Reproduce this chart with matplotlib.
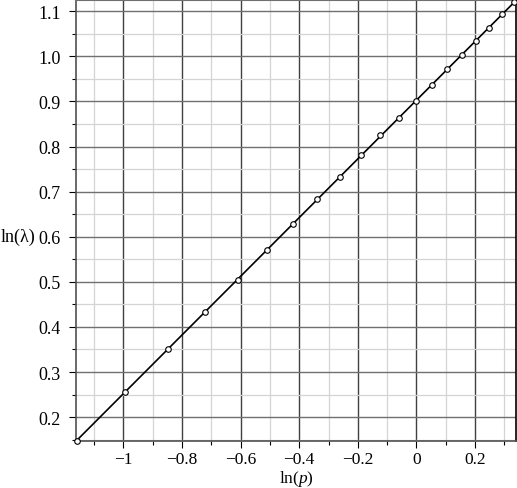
import numpy as np
import matplotlib
matplotlib.use('Agg')
import matplotlib.pyplot as plt
from matplotlib.ticker import MultipleLocator, FuncFormatter

# Data (ln(p), ln(lambda))
ln_p = [-1.160, -0.994, -0.849, -0.723, -0.610, -0.511, -0.420, -0.338, -0.261,
        -0.190, -0.123, -0.059, 0.000, 0.054, 0.106, 0.156, 0.203, 0.248, 0.293, 0.333]
ln_lam = [0.148, 0.256, 0.351, 0.432, 0.505, 0.570, 0.629, 0.684, 0.732,
          0.781, 0.825, 0.864, 0.900, 0.936, 0.971, 1.004, 1.035, 1.064, 1.094, 1.121]

plt.rcParams['font.family'] = ['Liberation Serif', 'DejaVu Serif']
plt.rcParams['mathtext.fontset'] = 'custom'
plt.rcParams['mathtext.rm'] = 'Liberation Serif'
plt.rcParams['mathtext.it'] = 'Liberation Serif:italic'

fig = plt.figure(figsize=(5.17, 4.89), dpi=100)
ax = fig.add_axes([76 / 517, 47 / 489, 440 / 517, 441 / 489])

# Fitted straight line through the points
xs = np.array(ln_p)
ys = np.array(ln_lam)
slope, icpt = np.polyfit(xs, ys, 1)
xlim = (-1.162, 0.340)
xl = np.array(xlim)
ax.plot(xl, slope * xl + icpt, color='black', lw=1.2, zorder=3)

ax.plot(xs, ys, 'o', ms=4, mfc='white', mec='black', mew=0.8, zorder=4, clip_on=False)

ax.set_xlim(xlim)
ax.set_ylim(0.147, 1.125)

ax.xaxis.set_major_locator(MultipleLocator(0.2))
ax.xaxis.set_minor_locator(MultipleLocator(0.1))
ax.yaxis.set_major_locator(MultipleLocator(0.1))
ax.yaxis.set_minor_locator(MultipleLocator(0.05))


def xfmt(v, pos):
    if abs(v) < 1e-9:
        return '0'
    s = '%g' % round(v, 1)
    return s.replace('-', '\u2212')


ax.xaxis.set_major_formatter(FuncFormatter(xfmt))
ax.yaxis.set_major_formatter(FuncFormatter(lambda v, pos: '%.1f' % v))

ax.grid(which='major', axis='x', color='#404040', lw=1.0)
ax.grid(which='major', axis='y', color='#707070', lw=1.0)
ax.grid(which='minor', color='#d4d4d4', lw=0.9)
ax.set_axisbelow(True)

ax.tick_params(which='major', direction='out', length=5, width=0.8, labelsize=13)
ax.tick_params(axis='x', which='major', pad=2, labelsize=12.5)
ax.tick_params(axis='y', which='major', pad=6)
ax.tick_params(which='minor', direction='out', length=3, width=0.8)

for side in ['left', 'bottom']:
    ax.spines[side].set_color('#505050')
    ax.spines[side].set_linewidth(1.2)
ax.spines['top'].set_color('#707070')
ax.spines['top'].set_linewidth(1.5)
ax.spines['right'].set_color('black')
ax.spines['right'].set_linewidth(1.2)

ax.set_xlabel('ln($p$)', fontsize=12.5)
ax.xaxis.set_label_coords(0.5, -0.061)
ax.set_ylabel('ln(\u03bb)', fontsize=13, rotation=0, va='center', ha='left')
ax.yaxis.set_label_coords(-75 / 440, 0.465)

plt.savefig('out.png', dpi=100)
